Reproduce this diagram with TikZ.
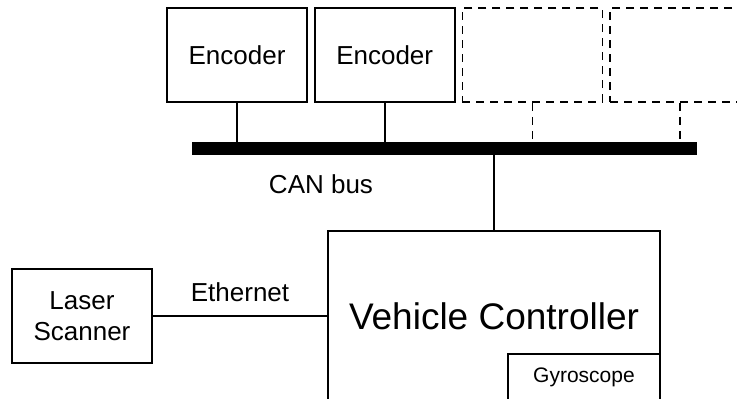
\documentclass[tikz,border=0pt]{standalone}
\usepackage{fontspec}
\setmainfont{Liberation Sans}
\usetikzlibrary{positioning}

\begin{document}
\begin{tikzpicture}[x=0.5pt, y=-0.5pt,
    unit/.style={draw, line width=0.85pt, minimum width=70pt, minimum height=47pt,
                 inner sep=0pt, align=center, font=\fontsize{13}{15.6}\selectfont},
    spare/.style={unit, dash pattern=on 4pt off 3pt},
    link/.style={line width=0.85pt},
    sparelink/.style={link, dash pattern=on 4pt off 3pt}
]
    \useasboundingbox (0,0) rectangle (737,398);
    \clip (0,0) rectangle (737,398);

    % bus devices
    \node[unit] (enc1) at (237,55) {Encoder};
    \node[unit, right=3pt of enc1] (enc2) {Encoder};
    \node[spare, right=3pt of enc2] (spare1) {};
    \node[spare, right=3pt of spare1] (spare2) {};

    % CAN bus bar
    \node[fill, minimum width=252.5pt, minimum height=6.5pt, inner sep=0pt] (bus) at (444.5,148.5) {};
    \node[font=\fontsize{13}{15.6}\selectfont] (buslabel) at (321,184) {CAN bus};

    % controller and scanner
    \node[draw, line width=0.85pt, minimum width=166pt, minimum height=85pt,
          font=\fontsize{18.5}{22}\selectfont] (vc) at (494,316) {Vehicle Controller};
    \node[draw, line width=0.85pt, anchor=south east, minimum width=76pt, minimum height=23.5pt,
          font=\fontsize{10.5}{12.6}\selectfont] (gyro) at (vc.south east) {Gyroscope};
    \node[unit] (laser) at (82,316) {Laser\\Scanner};

    \draw[link] (enc1) -- (enc1 |- bus.north);
    \draw[link] (enc2) -- (enc2 |- bus.north);
    \draw[sparelink] (spare1) -- (spare1 |- bus.north);
    \draw[sparelink] (spare2) -- (spare2 |- bus.north);
    \draw[link] (vc) -- (vc |- bus.south);
    \draw[link] (laser) -- node[above=3.5pt, font=\fontsize{13}{15.6}\selectfont] {Ethernet} (vc);
\end{tikzpicture}
\end{document}
